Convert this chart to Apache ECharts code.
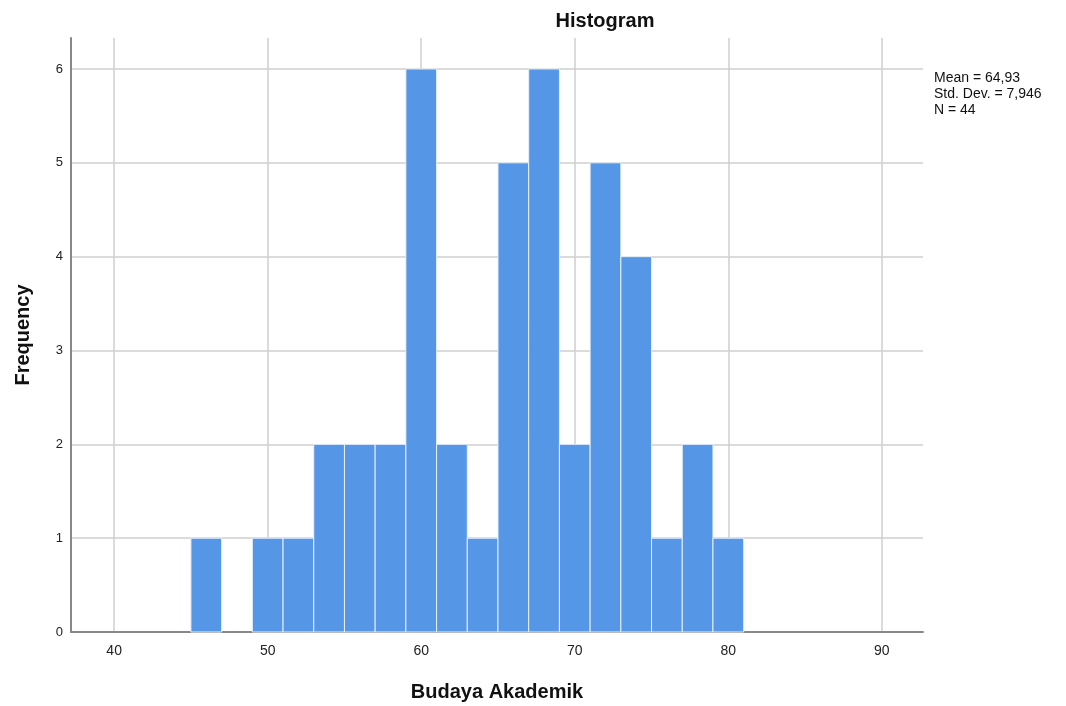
<!DOCTYPE html>
<html><head><meta charset="utf-8">
<script src="https://cdn.jsdelivr.net/npm/echarts@6/dist/echarts.min.js"></script>
<style>html,body{margin:0;padding:0;background:#fff}#c{width:1066px;height:706px}</style>
</head><body><div id="c"></div>
<script>
var binStarts = [45,47,49,51,53,55,57,59,61,63,65,67,69,71,73,75,77,79];
var binWidth = 2;
var frequencies = [1,0,1,1,2,2,2,6,2,1,5,6,2,5,4,1,2,1];
var xTicks = [40,50,60,70,80,90];
var yTicks = [0,1,2,3,4,5,6];
var stats = ['Mean = 64,93','Std. Dev. = 7,946','N = 44'];

var chart = echarts.init(document.getElementById('c'), null, {renderer:'canvas'});
var data = binStarts.map(function(s,i){return [s, s+binWidth, frequencies[i]];});
var gridLineStyle = {color:'#cfcfcf', width:1.5, type:'solid'};
chart.setOption({
  animation:false,
  backgroundColor:'#fff',
  title:{text:'Histogram', left:600, top:6, textAlign:'center',
    textStyle:{fontFamily:'Liberation Sans, Arial', fontSize:20, fontWeight:'bold', color:'#111'}},
  grid:{left:71, right:143, top:38, bottom:74, containLabel:false, outerBoundsMode:'none'},
  xAxis:{type:'value', min:37.19, max:92.68,
    name:'Budaya Akademik', nameLocation:'middle', nameGap:50,
    nameTextStyle:{fontFamily:'Liberation Sans, Arial', fontSize:20, fontWeight:'bold', color:'#111'},
    axisLine:{show:true, onZero:false, lineStyle:{color:'#888', width:2}},
    axisTick:{show:false},
    axisLabel:{fontFamily:'Liberation Sans, Arial', fontSize:14, color:'#222', margin:12,
      customValues:xTicks},
    splitLine:{show:false}},
  yAxis:{type:'value', min:0, max:6.33,
    name:'Frequency', nameLocation:'middle', nameGap:38, nameRotate:90,
    nameTextStyle:{fontFamily:'Liberation Sans, Arial', fontSize:20, fontWeight:'bold', color:'#111'},
    axisLine:{show:true, lineStyle:{color:'#888', width:2}},
    axisTick:{show:false},
    axisLabel:{fontFamily:'Liberation Sans, Arial', fontSize:13, color:'#222', margin:8, customValues:yTicks},
    splitLine:{show:false}},
  graphic:[{type:'text', left:934, top:70, style:{text:stats.join('\n'),
    font:'14px Liberation Sans, Arial', fill:'#111', lineHeight:16}}],
  series:[
    {type:'line', data:[], z:0, silent:true,
     markLine:{silent:true, z:0, symbol:'none', label:{show:false}, lineStyle:gridLineStyle,
       data:xTicks.map(function(v){return {xAxis:v};}).concat(yTicks.slice(1).map(function(v){return {yAxis:v};}))}},
    {type:'custom', data:data, encode:{x:[0,1], y:2}, z:10,
    renderItem:function(params, api){
      var v = api.value(2);
      if (!v) return null;
      var p0 = api.coord([api.value(0), 0]);
      var p1 = api.coord([api.value(1), v]);
      return {type:'rect', shape:{x:p0[0], y:p1[1], width:p1[0]-p0[0], height:p0[1]-p1[1]},
        style:{fill:'#5596E6', stroke:'#e8f0fa', lineWidth:1}};
    }}]
});
</script></body></html>
